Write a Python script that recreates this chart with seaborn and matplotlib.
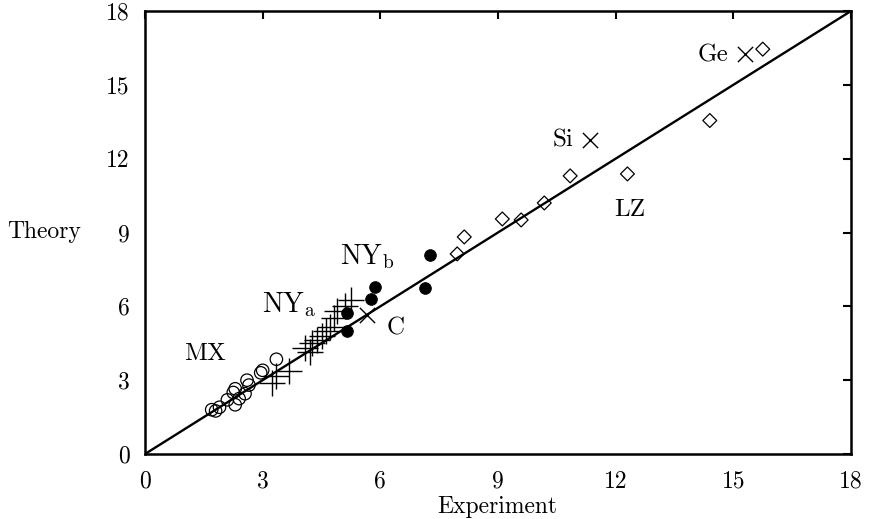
import matplotlib
matplotlib.use("Agg")
import matplotlib.pyplot as plt
import seaborn as sns
import pandas as pd

# ---- data (Experiment, Theory) ----
mx_x = [1.7, 1.8, 1.9, 2.1, 2.3, 2.25, 2.3, 2.4, 2.55, 2.6, 2.65, 2.95, 3.0, 3.35]
mx_y = [1.8, 1.75, 1.9, 2.2, 2.0, 2.5, 2.65, 2.25, 2.45, 3.0, 2.8, 3.3, 3.4, 3.85]

nya_x = [3.24, 3.34, 3.67, 4.08, 4.21, 4.26, 4.39, 4.52, 4.62, 4.72, 4.82, 4.90, 5.10, 5.26]
nya_y = [2.89, 3.17, 3.37, 4.31, 4.14, 4.51, 4.63, 4.79, 5.00, 5.16, 5.53, 5.81, 6.01, 6.26]

nyb_x = [5.15, 5.15, 5.76, 5.87, 7.14, 7.27]
nyb_y = [5.01, 5.74, 6.29, 6.80, 6.73, 8.09]

lz_x = [7.96, 8.14, 9.11, 9.59, 10.18, 10.84, 12.30, 14.40, 15.75]
lz_y = [8.13, 8.82, 9.55, 9.51, 10.20, 11.30, 11.38, 13.55, 16.45]

cross_names = ["C", "Si", "Ge"]
cross_x = [5.66, 11.35, 15.30]
cross_y = [5.65, 12.76, 16.25]

line_x = [0, 18]
line_y = [0, 18]

ticks = [0, 3, 6, 9, 12, 15, 18]

sns.set_theme(style="white")
plt.rcParams["font.family"] = ["cmr10", "DejaVu Serif"]
plt.rcParams["mathtext.fontset"] = "cm"
plt.rcParams["axes.formatter.use_mathtext"] = True

fig = plt.figure(figsize=(8.72, 5.19), dpi=100)
ax = fig.add_axes([145 / 872, 65 / 519, 706 / 872, 443 / 519])

sns.lineplot(x=line_x, y=line_y, ax=ax, color="black", lw=1.7, zorder=1)

sns.scatterplot(x=mx_x, y=mx_y, ax=ax, marker="o", s=80, facecolor="none",
                edgecolor="black", linewidth=0.9, zorder=3)
sns.scatterplot(x=nya_x, y=nya_y, ax=ax, marker="+", s=330, color="black",
                linewidth=1.0, zorder=3)
sns.scatterplot(x=nyb_x, y=nyb_y, ax=ax, marker="o", s=70, color="black",
                edgecolor="black", zorder=3)
sns.scatterplot(x=lz_x, y=lz_y, ax=ax, marker="D", s=50, facecolor="none",
                edgecolor="black", linewidth=0.9, zorder=3)
sns.scatterplot(x=cross_x, y=cross_y, ax=ax, marker="x", s=120, color="black",
                linewidth=1.0, zorder=3)

ax.set_xlim(0, 18)
ax.set_ylim(0, 18)
ax.set_xticks(ticks)
ax.set_yticks(ticks)
ax.set_xticklabels([str(t) for t in ticks])
ax.set_yticklabels([str(t) for t in ticks])
ax.tick_params(direction="in", length=6, width=1.5, top=True, right=True,
               labelsize=17, colors="black")
ax.tick_params(axis="x", pad=12)
ax.tick_params(axis="y", pad=11)
for sp in ax.spines.values():
    sp.set_visible(True)
    sp.set_color("black")
    sp.set_linewidth(1.8)

ax.set_xlabel("Experiment", fontsize=17, color="black")
ax.xaxis.set_label_coords(0.4986, -0.12)
ax.xaxis.label.set_va("center")
ax.set_ylabel("Theory", fontsize=17, color="black", rotation=0)
ax.yaxis.set_label_coords(-0.143, 0.501)
ax.yaxis.label.set_va("center")
ax.yaxis.label.set_ha("center")

lab = dict(fontsize=18, color="black", ha="center", va="center")
ax.text(1.53, 4.06, "MX", **lab)
ax.text(3.68, 6.05, r"NY$_\mathrm{a}$", fontsize=20, color="black", ha="center", va="center")
ax.text(5.68, 8.0, r"NY$_\mathrm{b}$", fontsize=20, color="black", ha="center", va="center")
ax.text(6.38, 5.1, "C", **lab)
ax.text(10.65, 12.75, "Si", **lab)
ax.text(14.47, 16.2, "Ge", **lab)
ax.text(12.35, 9.9, "LZ", **lab)

fig.savefig("out.png", dpi=100)
